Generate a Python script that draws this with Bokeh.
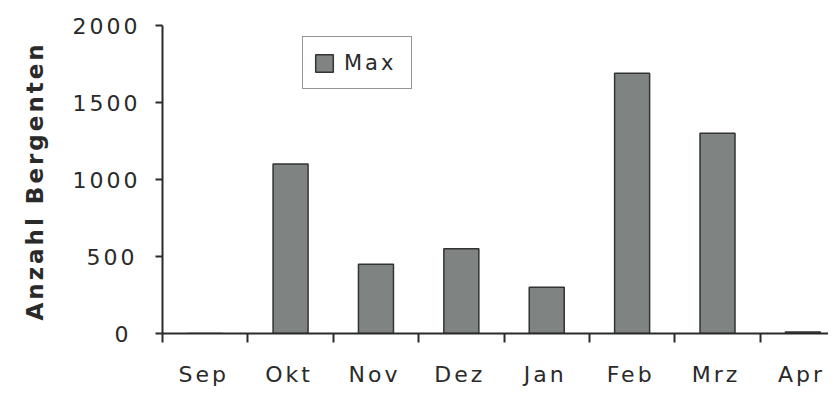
from bokeh.plotting import figure
from bokeh.models import FixedTicker, Legend, LegendItem, Range1d, ColumnDataSource, Title
from bokeh.embed import file_html
from bokeh.resources import INLINE

months = ["Sep", "Okt", "Nov", "Dez", "Jan", "Feb", "Mrz", "Apr"]
max_values = [0, 1100, 450, 550, 300, 1690, 1300, 10]
y_ticks = [0, 500, 1000, 1500, 2000]
series_name = "Max"
y_title = "Anzahl Bergenten"

centers = [i + 0.5 for i in range(len(months))]
label_pos = [c - 0.07 for c in centers]
boundaries = list(range(len(months)))

src = ColumnDataSource(dict(x=centers, top=max_values, month=months))

FONT = "DejaVu Sans"
TXT = "#2a2a2a"

p = figure(width=828, height=393, output_backend="svg", toolbar_location=None,
           x_range=Range1d(0, 7.80), y_range=Range1d(0, 2000),
           min_border_left=162, min_border_right=0, min_border_top=25,
           min_border_bottom=60)
p.outline_line_color = None
p.xgrid.visible = False
p.ygrid.visible = False
p.background_fill_color = "white"

r = p.vbar(x="x", top="top", width=0.41, bottom=0, source=src,
           fill_color="#7f8381", line_color="#333333", line_width=1.5)

# x axis: labels centred under bars, short ticks at category boundaries
xa = p.xaxis[0]
xa.ticker = FixedTicker(ticks=label_pos, minor_ticks=boundaries)
xa.major_label_overrides = {c: m for c, m in zip(label_pos, months)}
xa.major_tick_out = 0
xa.major_tick_in = 0
xa.minor_tick_out = 9
xa.minor_tick_in = 0
xa.minor_tick_line_color = TXT
xa.minor_tick_line_width = 2
xa.axis_line_color = TXT
xa.axis_line_width = 2
xa.major_label_text_font = FONT
xa.major_label_text_font_size = "22px"
xa.major_label_text_color = TXT
xa.major_label_standoff = 19

ya = p.yaxis[0]
ya.ticker = FixedTicker(ticks=y_ticks, minor_ticks=[])
ya.major_tick_out = 7
ya.major_tick_in = 0
ya.major_tick_line_color = TXT
ya.major_tick_line_width = 2
ya.axis_line_color = TXT
ya.axis_line_width = 2
ya.major_label_text_font = FONT
ya.major_label_text_font_size = "22px"
ya.major_label_text_color = TXT
ya.major_label_standoff = 27

# vertical axis title, in the left panel
ytitle = Title(text=y_title, align="left", vertical_align="top", offset=13,
               standoff=40, text_font=FONT, text_font_size="23px",
               text_font_style="bold", text_color=TXT)
p.add_layout(ytitle, "left")

legend = Legend(items=[LegendItem(label=series_name, renderers=[r])],
                location=(140, 244), margin=0, padding=10,
                glyph_width=22, glyph_height=22, label_standoff=9,
                label_width=57, label_height=31,
                label_text_font=FONT, label_text_font_size="21px",
                label_text_color=TXT,
                border_line_color=TXT, border_line_width=1.5,
                background_fill_color="white", background_fill_alpha=1.0)
p.add_layout(legend, "center")

p.styles = {"letter-spacing": "3px"}

open("out.html", "w").write(file_html(p, INLINE))
